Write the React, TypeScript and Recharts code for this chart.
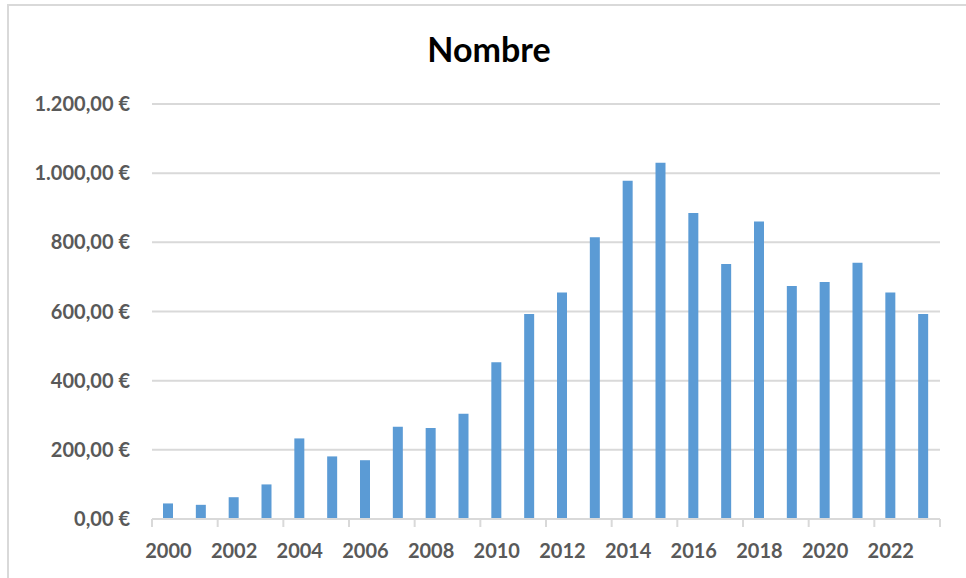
import React from "react";
import { BarChart, Bar, XAxis, YAxis, CartesianGrid } from "recharts";

// Données
const years = [
  "2000", "2001", "2002", "2003", "2004", "2005", "2006", "2007",
  "2008", "2009", "2010", "2011", "2012", "2013", "2014", "2015",
  "2016", "2017", "2018", "2019", "2020", "2021", "2022", "2023",
];
const values = [
  45, 41, 63, 100, 233, 181, 170, 267,
  263, 304, 453, 593, 655, 815, 978, 1030,
  885, 737, 860, 674, 685, 741, 655, 593,
];
const yTicks = [0, 200, 400, 600, 800, 1000, 1200];

const W = 966;
const H = 578;
const PLOT_LEFT = 152;
const PLOT_RIGHT = 940;
const PLOT_TOP = 104;
const PLOT_BOTTOM = 519;

const FONT = "Lato, 'Open Sans', sans-serif";
const TEXT_COLOR = "#595959";
const GRID_COLOR = "#d9d9d9";
const BAR_COLOR = "#5B9BD5";

const data = years.map((year, i) => ({ year, value: values[i] }));

// 1.200,00 € (format fr/de)
function formatEuro(v: number) {
  const [int, dec] = v.toFixed(2).split(".");
  const withSep = int.replace(/\B(?=(\d{3})+(?!\d))/g, ".");
  return `${withSep},${dec} €`;
}

function YearTick(props: any) {
  const { x, y, payload } = props;
  const idx = years.indexOf(String(payload.value));
  const band = (PLOT_RIGHT - PLOT_LEFT) / years.length;
  const left = x - band / 2;
  return (
    <g>
      <line x1={left} x2={left} y1={y} y2={y + 8} stroke={GRID_COLOR} strokeWidth={2} />
      {idx === years.length - 2 && (
        <line
          x1={left + band * 2}
          x2={left + band * 2}
          y1={y}
          y2={y + 8}
          stroke={GRID_COLOR}
          strokeWidth={2}
        />
      )}
      <text
        x={x}
        y={y + 39}
        textAnchor="middle"
        fill={TEXT_COLOR}
        fontFamily={FONT}
        fontWeight={700}
        fontSize={20}
      >
        {payload.value}
      </text>
    </g>
  );
}

export default function App() {
  return (
    <div
      style={{
        position: "absolute",
        left: 0,
        top: 0,
        width: W,
        height: H,
        overflow: "hidden",
        background: "#fff",
      }}
    >
      <div
        style={{
          position: "absolute",
          left: 7,
          top: 4,
          width: 2000,
          height: 2000,
          border: `2px solid ${GRID_COLOR}`,
          boxSizing: "border-box",
        }}
      />
      <div
        style={{
          position: "absolute",
          left: 0,
          width: 978,
          top: 29,
          textAlign: "center",
          fontFamily: FONT,
          fontWeight: 700,
          fontSize: 34,
          color: "#000",
          lineHeight: "40px",
        }}
      >
        Nombre
      </div>
      <div style={{ position: "absolute", left: 0, top: 0 }}>
        <BarChart
          width={W}
          height={H}
          data={data}
          margin={{ top: PLOT_TOP, right: W - PLOT_RIGHT, left: 12, bottom: 19 }}
        >
          <CartesianGrid vertical={false} stroke={GRID_COLOR} strokeWidth={2} />
          <XAxis
            dataKey="year"
            interval={1}
            height={H - PLOT_BOTTOM - 19}
            axisLine={{ stroke: GRID_COLOR, strokeWidth: 2 }}
            tickLine={false}
            tickSize={0}
            tickMargin={0}
            tick={<YearTick />}
          />
          <YAxis
            width={PLOT_LEFT - 12}
            domain={[0, 1200]}
            ticks={yTicks}
            axisLine={false}
            tickLine={false}
            tickSize={0}
            tickMargin={22}
            tickFormatter={formatEuro}
            tick={{ fill: TEXT_COLOR, fontFamily: FONT, fontWeight: 700, fontSize: 20 }}
          />
          <Bar dataKey="value" fill={BAR_COLOR} barSize={10} isAnimationActive={false} />
        </BarChart>
      </div>
    </div>
  );
}
